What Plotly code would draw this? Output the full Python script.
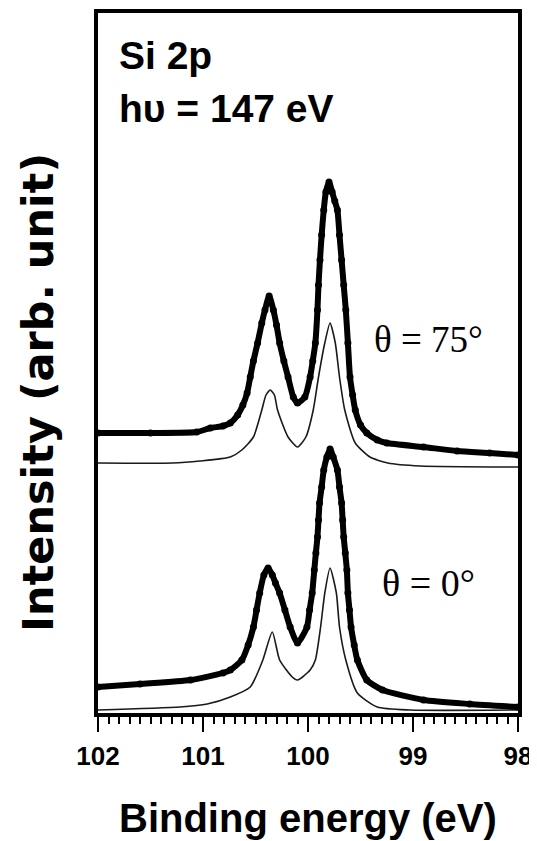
import plotly.graph_objects as go

# ---- data (binding energy in eV, intensity in arbitrary units) ----
E_75_thick = [102.00, 101.50, 101.06, 100.93, 100.81, 100.74, 100.67, 100.62, 100.58, 100.55,
              100.52, 100.48, 100.44, 100.41, 100.37, 100.33, 100.30, 100.27, 100.23, 100.19,
              100.14, 100.10, 100.03, 99.98, 99.955, 99.93, 99.91, 99.90, 99.886, 99.87,
              99.85, 99.83, 99.80, 99.77, 99.745, 99.72, 99.70, 99.68, 99.66, 99.64,
              99.62, 99.60, 99.575, 99.55, 99.50, 99.44, 99.34, 99.25, 98.90, 98.58,
              98.27, 98.00]
I_75_thick = [280, 280, 281, 285, 287, 290, 298, 308, 320, 336,
              352, 370, 390, 403, 417, 403, 388, 370, 352, 336,
              316, 310, 316, 336, 352, 370, 403, 428, 453, 478,
              503, 521, 531, 521, 512, 503, 478, 453, 428, 403,
              370, 336, 318, 303, 288, 280, 273, 270, 266, 262,
              260, 258]

E_75_thin = [102.00, 101.29, 101.03, 100.74, 100.63, 100.52, 100.44, 100.40, 100.36, 100.32,
             100.29, 100.19, 100.10, 100.02, 99.95, 99.90, 99.84, 99.79, 99.74, 99.70,
             99.65, 99.55, 99.41, 99.24, 98.93, 98.00]
I_75_thin = [250, 250, 252, 256, 263, 276, 303, 318, 323, 318,
             303, 276, 266, 276, 303, 336, 370, 390, 370, 336,
             303, 270, 256, 250, 247, 246]

E_0_thick = [102.00, 101.60, 101.12, 100.81, 100.74, 100.63, 100.57, 100.52, 100.49, 100.46,
             100.42, 100.38, 100.34, 100.31, 100.27, 100.22, 100.17, 100.10, 100.01, 99.985,
             99.96, 99.94, 99.925, 99.91, 99.90, 99.89, 99.87, 99.85, 99.82, 99.79,
             99.76, 99.72, 99.70, 99.68, 99.67, 99.66, 99.645, 99.63, 99.62, 99.605,
             99.59, 99.56, 99.53, 99.44, 99.29, 98.90, 98.46, 98.00]
I_0_thick = [26, 29, 33, 40, 43, 53, 68, 86, 103, 120,
             138, 145, 138, 130, 120, 103, 86, 70, 86, 103,
             120, 143, 160, 176, 193, 210, 226, 243, 256, 264,
             256, 243, 226, 210, 193, 176, 160, 143, 120, 103,
             86, 68, 53, 33, 23, 13, 9, 6]

E_0_thin = [102.00, 101.22, 100.96, 100.74, 100.55, 100.43, 100.34, 100.27, 100.15, 100.10,
            99.98, 99.93, 99.88, 99.84, 99.79, 99.73, 99.70, 99.64, 99.53, 99.34,
            99.03, 98.00]
I_0_thin = [3, 6, 9, 16, 26, 53, 81, 53, 36, 33,
            43, 53, 86, 120, 145, 120, 86, 53, 20, 6,
            3, 3]

x_ticks = [102, 101, 100, 99, 98]
x_tick_labels = ["102", "101", "100", "99", "98"]
x_half_ticks = [101.5, 100.5, 99.5, 98.5]

SANS = "Liberation Sans"
SERIF = "Liberation Serif"

fig = go.Figure()

def thin(E, I):
    fig.add_trace(go.Scatter(x=E, y=I, mode="lines",
                             line=dict(color="#1a1a1a", width=1.6, shape="spline", smoothing=0.6),
                             showlegend=False, hoverinfo="skip"))

def thick(E, I):
    fig.add_trace(go.Scatter(x=E, y=I, mode="lines+markers",
                             line=dict(color="black", width=6, shape="spline", smoothing=0.6),
                             marker=dict(color="black", size=7),
                             showlegend=False, hoverinfo="skip"))

thin(E_75_thin, I_75_thin)
thick(E_75_thick, I_75_thick)
thin(E_0_thin, I_0_thin)
thick(E_0_thick, I_0_thick)

# the page body adds an 8 px margin, so the figure is 8 px smaller and shifted
fig.update_layout(
    width=529, height=833,
    margin=dict(l=90, r=19, t=5, b=128, autoexpand=False),
    paper_bgcolor="white", plot_bgcolor="white",
    xaxis=dict(range=[102, 98], tickvals=x_ticks, ticktext=x_tick_labels,
               ticks="outside", ticklen=15, tickwidth=2, tickcolor="black",
               minor=dict(dtick=0.1, tick0=98, ticks="outside", ticklen=7,
                          tickwidth=1.5, tickcolor="black", showgrid=False),
               showline=True, linewidth=4, linecolor="black", mirror=True,
               showgrid=False, zeroline=False, automargin=False,
               tickfont=dict(family=SANS, size=26, color="black", weight="bold"),
               ticklabelstandoff=2),
    xaxis2=dict(range=[102, 98], overlaying="x", anchor="y", side="bottom",
                tickvals=x_half_ticks, showticklabels=False,
                ticks="outside", ticklen=11, tickwidth=1.5, tickcolor="black",
                showline=False, showgrid=False, zeroline=False, automargin=False),
    yaxis=dict(range=[0, 700], showticklabels=False, ticks="",
               showline=True, linewidth=4, linecolor="black", mirror=True,
               showgrid=False, zeroline=False, automargin=False),
)

ann = [
    dict(text="Si 2p", x=0.045, y=0.94, xanchor="left", yanchor="middle",
         font=dict(family=SANS, size=39, color="black", weight="bold")),
    dict(text="h\u03c5 = 147 eV", x=0.045, y=0.863, xanchor="left", yanchor="middle",
         font=dict(family=SANS, size=39, color="black", weight="bold")),
    dict(text="\u03b8 = 75\u00b0", x=0.786, y=0.534, xanchor="center", yanchor="middle",
         font=dict(family=SERIF, size=37, color="black")),
    dict(text="\u03b8 = 0\u00b0", x=0.786, y=0.186, xanchor="center", yanchor="middle",
         font=dict(family=SERIF, size=38, color="black")),
    dict(text="Binding energy (eV)", x=0.5, y=-0.15, xanchor="center", yanchor="middle",
         font=dict(family=SANS, size=40, color="black", weight="bold")),
    dict(text="Intensity (arb. unit)", x=-0.143, y=0.4586, xanchor="center", yanchor="middle",
         textangle=-90,
         font=dict(family="DejaVu Sans", size=43, color="black", weight="bold")),
]
for a in ann:
    a.update(xref="paper", yref="paper", showarrow=False)
    fig.add_annotation(**a)

fig.write_html("out.html")
